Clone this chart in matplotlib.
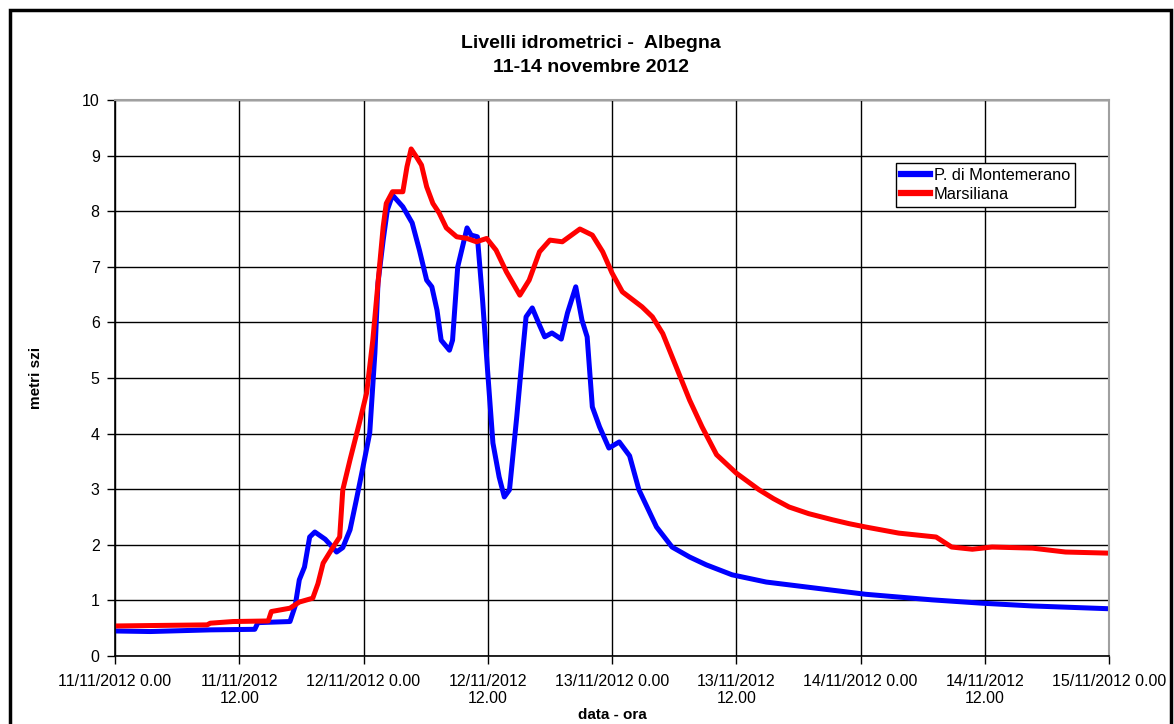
import matplotlib
matplotlib.use("Agg")
import matplotlib.pyplot as plt
from matplotlib.patches import Rectangle
import numpy as np

plt.rcParams['font.family'] = ['Liberation Sans', 'DejaVu Sans']

# hours since 11/11/2012 00:00
blue_h = [0, 3.4, 9.2, 13.5, 13.8, 16.9, 17.4, 17.8, 18.3, 18.8, 19.3, 20.3, 21.0, 21.4, 22.0,
          22.7, 23.3, 23.9, 24.6, 25.1, 25.4, 25.9, 26.3, 26.8, 27.8, 28.7, 29.4, 30.1, 30.6,
          31.1, 31.5, 32.3, 32.6, 33.1, 34.0, 34.4, 35.0, 35.5, 36.0, 36.5, 37.1, 37.6, 38.1,
          38.8, 39.3, 39.7, 40.3, 41.0, 41.5, 42.2, 43.1, 43.7, 44.5, 45.1, 45.6, 46.1, 46.8,
          47.7, 48.7, 49.7, 50.6, 52.3, 53.8, 55.5, 57.1, 59.6, 62.9, 67.7, 72.5, 78.9, 83.7,
          88.6, 96.0]
blue_v = [0.45, 0.44, 0.47, 0.48, 0.60, 0.62, 0.90, 1.37, 1.60, 2.14, 2.23, 2.10, 1.96, 1.87, 1.95,
          2.27, 2.80, 3.35, 4.01, 5.45, 6.71, 7.48, 8.02, 8.29, 8.08, 7.79, 7.30, 6.76, 6.64,
          6.22, 5.68, 5.50, 5.68, 7.00, 7.70, 7.57, 7.54, 6.40, 5.09, 3.83, 3.22, 2.86, 2.99,
          4.30, 5.32, 6.10, 6.26, 5.95, 5.74, 5.81, 5.70, 6.17, 6.64, 6.04, 5.74, 4.48, 4.12,
          3.74, 3.85, 3.60, 2.99, 2.32, 1.96, 1.78, 1.64, 1.46, 1.33, 1.22, 1.11, 1.01, 0.95,
          0.90, 0.85]

red_h = [0, 8.9, 9.2, 11.4, 14.8, 15.1, 16.9, 17.8, 19.1, 19.6, 20.1, 21.0, 21.7, 22.0, 22.7,
         23.6, 24.3, 24.9, 25.4, 25.9, 26.2, 26.8, 27.8, 28.2, 28.6, 29.1, 29.6, 30.1, 30.7,
         31.3, 32.0, 33.0, 34.0, 34.9, 35.9, 36.8, 37.8, 39.1, 40.0, 41.0, 42.0, 43.2, 44.9,
         46.1, 47.1, 48.0, 49.0, 50.9, 51.9, 52.9, 54.2, 55.5, 56.7, 58.1, 60.0, 62.2, 63.6,
         65.1, 67.0, 69.3, 70.9, 72.5, 75.7, 79.3, 80.8, 82.8, 84.7, 88.6, 91.8, 96.0]
red_v = [0.54, 0.56, 0.59, 0.62, 0.63, 0.80, 0.86, 0.97, 1.04, 1.30, 1.67, 1.94, 2.14, 2.99, 3.53,
         4.19, 4.73, 5.68, 6.71, 7.72, 8.14, 8.35, 8.35, 8.80, 9.12, 8.98, 8.83, 8.44, 8.14,
         7.97, 7.70, 7.54, 7.51, 7.45, 7.51, 7.30, 6.91, 6.49, 6.76, 7.27, 7.48, 7.45, 7.68,
         7.57, 7.27, 6.89, 6.55, 6.28, 6.10, 5.80, 5.20, 4.60, 4.12, 3.62, 3.29, 2.99, 2.83,
         2.68, 2.56, 2.45, 2.38, 2.32, 2.21, 2.14, 1.96, 1.92, 1.96, 1.94, 1.87, 1.85]

tick_hours = [0, 12, 24, 36, 48, 60, 72, 84, 96]
tick_labels = ["11/11/2012 0.00", "11/11/2012\n12.00", "12/11/2012 0.00", "12/11/2012\n12.00",
               "13/11/2012 0.00", "13/11/2012\n12.00", "14/11/2012 0.00", "14/11/2012\n12.00",
               "15/11/2012 0.00"]
y_ticks = list(range(0, 11))

series_names = ["P. di Montemerano", "Marsiliana"]

W, H = 1174, 724
fig = plt.figure(figsize=(W / 100, H / 100), dpi=100)
fig.patch.set_facecolor('white')

ax = fig.add_axes([115 / W, (H - 656) / H, (1109 - 115) / W, 556 / H])
ax.plot(blue_h, blue_v, color='#0000ff', lw=3.6, label=series_names[0], solid_joinstyle='round')
ax.plot(red_h, red_v, color='#ff0000', lw=3.6, label=series_names[1], solid_joinstyle='round')

ax.set_xlim(0, 96)
ax.set_ylim(0, 10)
ax.set_xticks(tick_hours)
ax.set_xticklabels(tick_labels, fontsize=11.5, linespacing=1.2)
ax.set_yticks(y_ticks)
ax.set_yticklabels([str(v) for v in y_ticks], fontsize=11.5)
ax.grid(True, color='black', lw=1.0)
ax.set_axisbelow(True)
ax.tick_params(axis='both', direction='out', length=6, width=1, color='black', pad=5)
ax.tick_params(axis='x', pad=7)
for s in ['top', 'right']:
    ax.spines[s].set_color('#a0a0a0')
    ax.spines[s].set_linewidth(1.5)
for s in ['left', 'bottom']:
    ax.spines[s].set_color('black')
    ax.spines[s].set_linewidth(1.2)

ax.set_ylabel("metri szi", fontsize=11, fontweight='bold', labelpad=28)
ax.set_xlabel("data - ora", fontsize=11, fontweight='bold', labelpad=1)

fig.text(591 / W, 1 - 43 / H, "Livelli idrometrici -  Albegna", ha='center',
         va='center', fontsize=14, fontweight='bold')
fig.text(591 / W, 1 - 68 / H, "11-14 novembre 2012", ha='center',
         va='center', fontsize=14, fontweight='bold')

leg = ax.legend(loc='upper left', bbox_to_anchor=((896 - 115) / 994, (656 - 163) / 556),
                fontsize=11.8, frameon=True, fancybox=False, framealpha=1, edgecolor='black',
                handlelength=1.8, handletextpad=0.2, borderpad=0.3, labelspacing=0.25,
                borderaxespad=0)
leg.get_frame().set_linewidth(1.0)
for line in leg.get_lines():
    line.set_linewidth(4.5)

frame = Rectangle((10 / W, -0.05), (1171 - 10) / W, 1 - 10 / H + 0.05, transform=fig.transFigure,
                  fill=False, edgecolor='black', lw=2.5, clip_on=False)
fig.patches.append(frame)

fig.savefig("out.png", dpi=100)
